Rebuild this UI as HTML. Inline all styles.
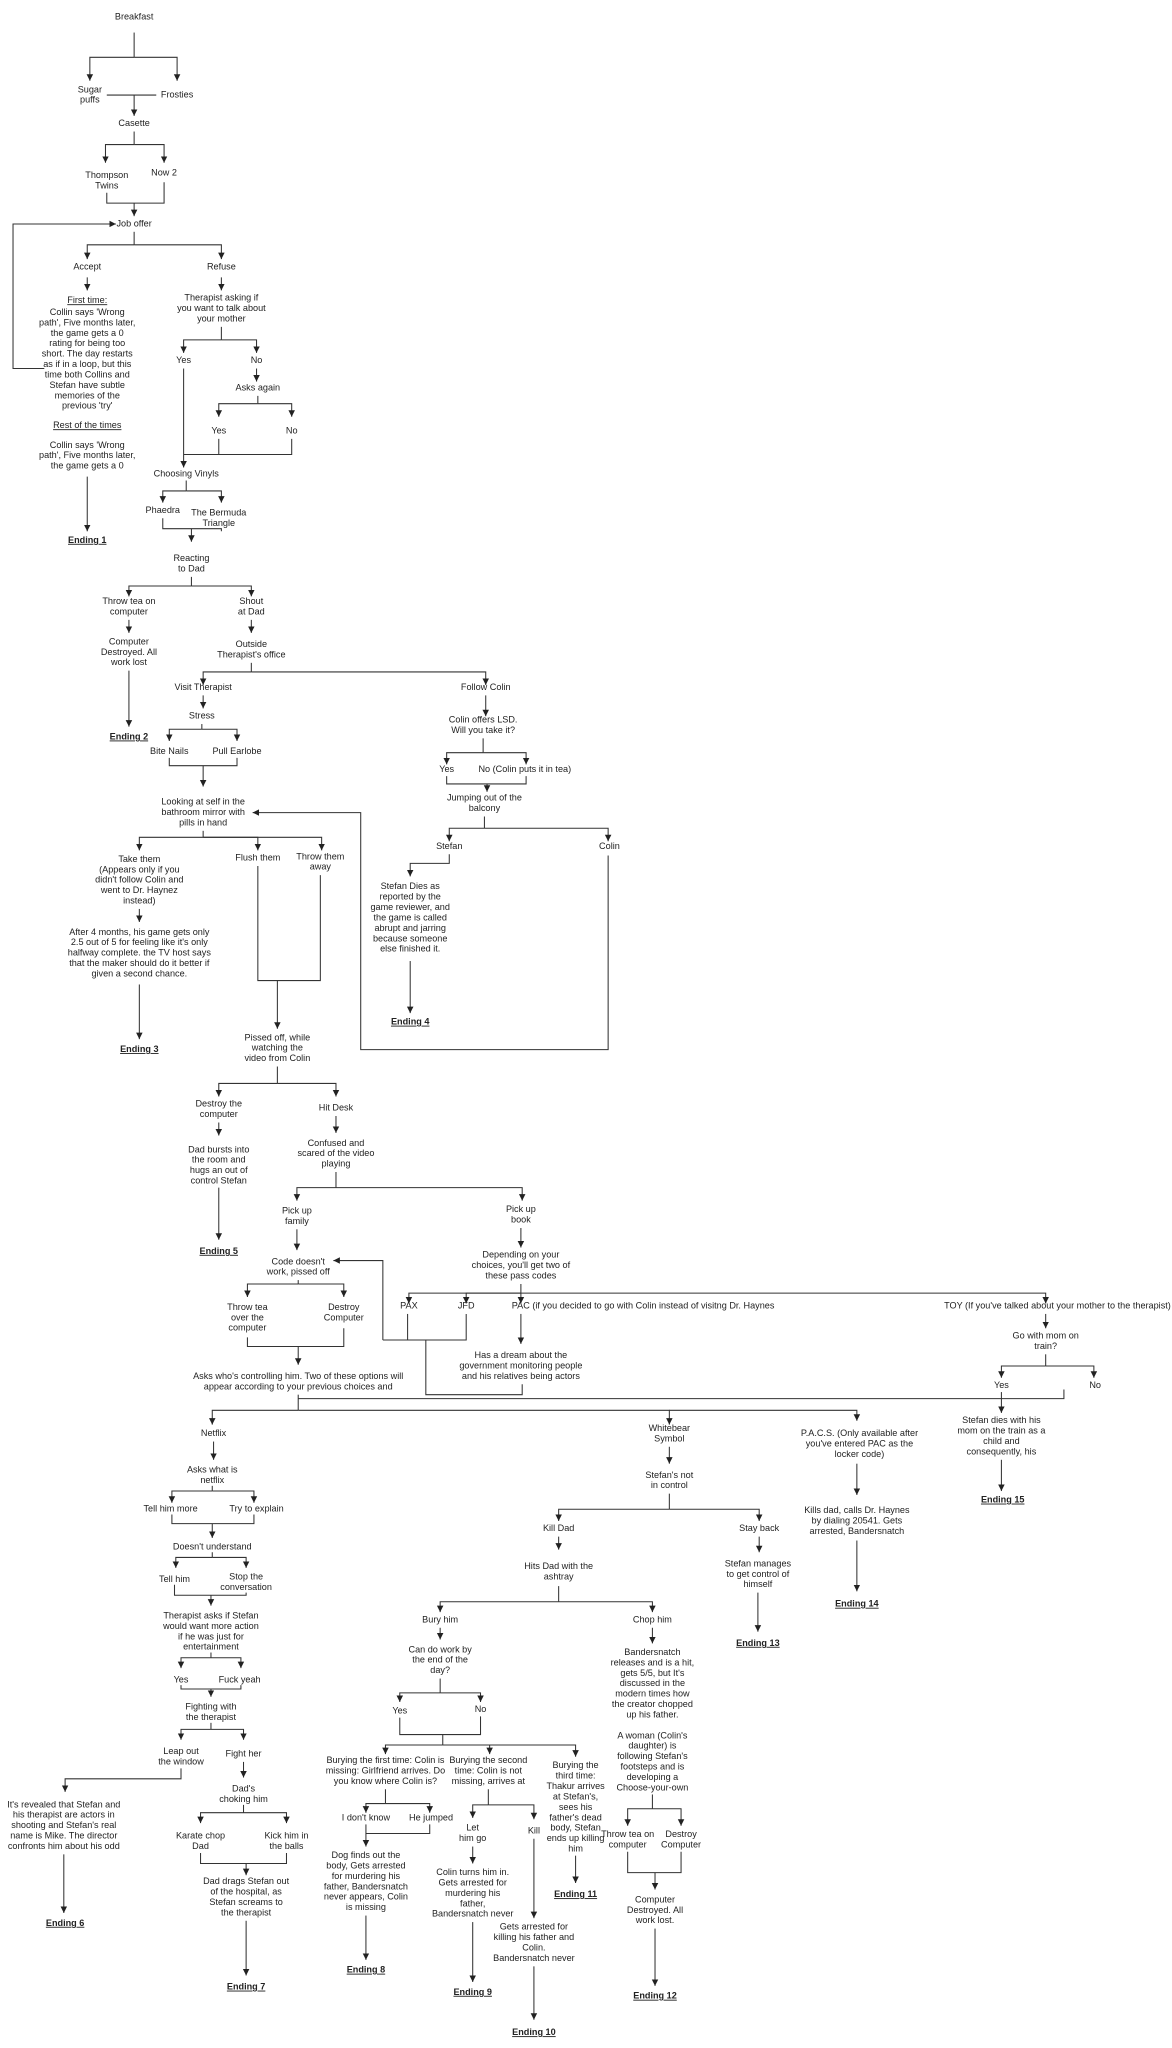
<!DOCTYPE html>
<html><head><meta charset="utf-8"><style>
html,body{margin:0;padding:0;background:#fff;}
svg{display:block;}
text{font-family:"Liberation Sans",Arial,sans-serif;font-size:7px;fill:#222;text-anchor:middle;dominant-baseline:middle;}
.l{text-anchor:start;}
.b{font-weight:bold;text-decoration:underline;}
.u{text-decoration:underline;}
path{fill:none;stroke:#333;stroke-width:0.8;}
</style></head><body>
<svg width="1172" height="2048" viewBox="0 0 900 1572.7" xmlns="http://www.w3.org/2000/svg">
<defs><marker id="a" markerUnits="userSpaceOnUse" markerWidth="6" markerHeight="6" refX="5" refY="3" orient="auto"><path d="M0,0.5 L5,3 L0,5.5 Z" style="fill:#222;stroke:none"/></marker></defs>
<!-- plain lines -->
<g>
<path d="M103,25V44"/><path d="M82,73H120"/><path d="M103,101V111"/>
<path d="M82,148V156H126V140"/><path d="M103,178V188"/>
<path d="M170,251V261"/><path d="M198,304V310"/>
<path d="M168,337V349"/><path d="M224,337V349H141"/>
<path d="M143,369V377"/><path d="M125,398V406H170V408"/>
<path d="M147,443V450"/><path d="M193,509V516"/><path d="M155,556V560"/>
<path d="M130,582V588H182V582"/><path d="M156,638V643"/>
<path d="M198,665V753H246V672"/>
<path d="M371,567V578"/><path d="M343,596V602H404V596"/><path d="M372,627V636"/>
<path d="M213,819V832"/><path d="M258,900V912"/>
<path d="M294,1029H358V1009"/><path d="M313,1009V1029"/>
<path d="M327,1029V1071H401V1063"/>
<path d="M400,986V993"/><path d="M803,1040V1049"/>
<path d="M229,983V986"/><path d="M190,1027V1034H264V1020"/>
<path d="M229,1071V1083"/><path d="M229,1074H817V1067"/>
<path d="M514,1147V1159"/>
<path d="M429,1218V1230"/><path d="M338,1289V1300"/>
<path d="M307,1319V1332H369V1318"/><path d="M340,1332V1340"/>
<path d="M296,1374V1385"/><path d="M330,1401V1408H281"/>
<path d="M375,1374V1386"/>
<path d="M501,1378V1389"/><path d="M482,1422V1438H523V1422"/>
<path d="M163,1141V1145"/><path d="M132,1163V1170H195V1163"/>
<path d="M163,1192V1196"/><path d="M134,1217V1225H189V1223"/>
<path d="M162,1269V1273"/><path d="M139,1294V1297H185V1294"/>
<path d="M162,1323V1328"/><path d="M187,1386V1392"/>
<path d="M154,1423V1431H220V1423"/>
</g>
<!-- arrows -->
<g marker-end="url(#a)">
<path d="M103,44H69V62"/><path d="M103,44H136V62"/>
<path d="M103,73V89"/>
<path d="M103,111H81V125"/><path d="M103,111H126V125"/>
<path d="M103,156V166"/>
<path d="M34,283H10V172H89"/>
<path d="M103,188H67V199"/><path d="M103,188H170V199"/>
<path d="M67,213V223"/><path d="M170,213V223"/>
<path d="M67,366V408"/>
<path d="M170,261H141V271"/><path d="M170,261H197V271"/>
<path d="M197,283V293"/>
<path d="M198,310H168V320"/><path d="M198,310H224V320"/>
<path d="M141,283V359"/>
<path d="M143,377H125V386"/><path d="M143,377H170V386"/>
<path d="M147,406V416"/>
<path d="M147,450H99V458"/><path d="M147,450H193V458"/>
<path d="M99,476V486"/><path d="M193,476V486"/>
<path d="M99,515V558"/>
<path d="M193,516H156V526"/><path d="M193,516H373V526"/>
<path d="M156,534V544"/>
<path d="M155,560H130V569"/><path d="M155,560H182V569"/>
<path d="M156,588V604"/>
<path d="M156,643H107V653"/><path d="M156,643H198V653"/><path d="M156,643H247V653"/>
<path d="M107,698V708"/><path d="M107,756V798"/>
<path d="M213,753V790"/>
<path d="M373,534V550"/>
<path d="M371,578H343V587"/><path d="M371,578H404V587"/>
<path d="M374,602V608"/>
<path d="M372,636H345V646"/><path d="M372,636H467V646"/>
<path d="M345,656V663H315V673"/>
<path d="M315,738V778"/>
<path d="M467,657V806H277V624H194"/>
<path d="M213,832H168V842"/><path d="M213,832H258V842"/>
<path d="M168,862V872"/><path d="M258,857V870"/>
<path d="M168,912V952"/>
<path d="M258,912H228V922"/><path d="M258,912H401V922"/>
<path d="M228,944V960"/><path d="M400,943V958"/>
<path d="M294,1029V968H256"/>
<path d="M400,993H314V1001"/><path d="M400,993H358V1001"/><path d="M400,993V1001"/><path d="M400,993H803V1001"/>
<path d="M400,1009V1032"/>
<path d="M803,1009V1020"/>
<path d="M803,1049H769V1058"/><path d="M803,1049H840V1058"/>
<path d="M769,1069V1085"/><path d="M769,1121V1145"/>
<path d="M229,986H190V996"/><path d="M229,986H264V996"/>
<path d="M229,1034V1048"/>
<path d="M229,1083H163V1094"/><path d="M229,1083H514V1094"/><path d="M514,1083H658V1091"/>
<path d="M514,1111V1124"/><path d="M658,1124V1148"/><path d="M658,1183V1222"/>
<path d="M514,1159H429V1168"/><path d="M514,1159H583V1168"/>
<path d="M429,1180V1190"/><path d="M583,1180V1192"/><path d="M582,1223V1253"/>
<path d="M429,1230H338V1238"/><path d="M429,1230H501V1238"/>
<path d="M338,1250V1259"/>
<path d="M338,1300H307V1307"/><path d="M338,1300H369V1307"/>
<path d="M340,1340H296V1347"/><path d="M340,1340H376V1347"/><path d="M340,1340H442V1349"/>
<path d="M296,1385H281V1392"/><path d="M296,1385H330V1392"/>
<path d="M281,1401V1418"/><path d="M281,1471V1505"/>
<path d="M375,1386H363V1396"/><path d="M375,1386H410V1397"/>
<path d="M363,1418V1431"/><path d="M363,1476V1522"/>
<path d="M410,1412V1473"/><path d="M410,1510V1551"/>
<path d="M442,1425V1446"/>
<path d="M501,1250V1262"/>
<path d="M501,1389H482V1402"/><path d="M501,1389H523V1402"/>
<path d="M503,1438V1451"/><path d="M503,1481V1525"/>
<path d="M164,1107V1121"/>
<path d="M163,1145H132V1154"/><path d="M163,1145H195V1154"/>
<path d="M163,1170V1181"/>
<path d="M163,1196H135V1204"/><path d="M163,1196H189V1204"/>
<path d="M162,1225V1233"/>
<path d="M162,1273H139V1281"/><path d="M162,1273H185V1281"/>
<path d="M162,1297V1303"/>
<path d="M162,1328H139V1336"/><path d="M162,1328H187V1336"/>
<path d="M139,1358V1366H50V1376"/><path d="M49,1424V1469"/>
<path d="M187,1353V1365"/>
<path d="M187,1392H154V1400"/><path d="M187,1392H220V1400"/>
<path d="M189,1431V1440"/><path d="M189,1475V1517"/>
</g>
<g>
<text x="103" y="13">Breakfast</text>
<text x="69" y="69">Sugar</text><text x="69" y="77">puffs</text>
<text x="136" y="73">Frosties</text>
<text x="103" y="95">Casette</text>
<text x="82" y="135">Thompson</text><text x="82" y="143">Twins</text>
<text x="126" y="133">Now 2</text>
<text x="103" y="172">Job offer</text>
<text x="67" y="205">Accept</text><text x="170" y="205">Refuse</text>
<text x="67" y="231" class="u">First time:</text>
<text x="67" y="240">Collin says 'Wrong</text><text x="67" y="248">path', Five months later,</text><text x="67" y="256">the game gets a 0</text><text x="67" y="264">rating for being too</text><text x="67" y="272">short. The day restarts</text><text x="67" y="280">as if in a loop, but this</text><text x="67" y="288">time both Collins and</text><text x="67" y="296">Stefan have subtle</text><text x="67" y="304">memories of the</text><text x="67" y="312">previous 'try'</text>
<text x="67" y="327" class="u">Rest of the times</text>
<text x="67" y="342">Collin says 'Wrong</text><text x="67" y="350">path', Five months later,</text><text x="67" y="358">the game gets a 0</text>
<text x="67" y="415" class="b">Ending 1</text>
<text x="170" y="229">Therapist asking if</text><text x="170" y="237">you want to talk about</text><text x="170" y="245">your mother</text>
<text x="141" y="277">Yes</text><text x="197" y="277">No</text>
<text x="198" y="298">Asks again</text>
<text x="168" y="331">Yes</text><text x="224" y="331">No</text>
<text x="143" y="364">Choosing Vinyls</text>
<text x="125" y="392">Phaedra</text><text x="168" y="394">The Bermuda</text><text x="168" y="402">Triangle</text>
<text x="147" y="429">Reacting</text><text x="147" y="437">to Dad</text>
<text x="99" y="462">Throw tea on</text><text x="99" y="470">computer</text>
<text x="193" y="462">Shout</text><text x="193" y="470">at Dad</text>
<text x="99" y="493">Computer</text><text x="99" y="501">Destroyed. All</text><text x="99" y="509">work lost</text>
<text x="99" y="566" class="b">Ending 2</text>
<text x="193" y="495">Outside</text><text x="193" y="503">Therapist's office</text>
<text x="156" y="528">Visit Therapist</text><text x="373" y="528">Follow Colin</text>
<text x="155" y="550">Stress</text>
<text x="130" y="577">Bite Nails</text><text x="182" y="577">Pull Earlobe</text>
<text x="156" y="616">Looking at self in the</text><text x="156" y="624">bathroom mirror with</text><text x="156" y="632">pills in hand</text>
<text x="107" y="660">Take them</text><text x="107" y="668">(Appears only if you</text><text x="107" y="676">didn't follow Colin and</text><text x="107" y="684">went to Dr. Haynez</text><text x="107" y="692">instead)</text>
<text x="107" y="716">After 4 months, his game gets only</text><text x="107" y="724">2.5 out of 5 for feeling like it's only</text><text x="107" y="732">halfway complete. the TV host says</text><text x="107" y="740">that the maker should do it better if</text><text x="107" y="748">given a second chance.</text>
<text x="107" y="806" class="b">Ending 3</text>
<text x="198" y="659">Flush them</text><text x="246" y="658">Throw them</text><text x="246" y="666">away</text>
<text x="213" y="797">Pissed off, while</text><text x="213" y="805">watching the</text><text x="213" y="813">video from Colin</text>
<text x="371" y="553">Colin offers LSD.</text><text x="371" y="561">Will you take it?</text>
<text x="343" y="591">Yes</text><text x="403" y="591">No (Colin puts it in tea)</text>
<text x="372" y="613">Jumping out of the</text><text x="372" y="621">balcony</text>
<text x="345" y="650">Stefan</text><text x="468" y="650">Colin</text>
<text x="315" y="681">Stefan Dies as</text><text x="315" y="689">reported by the</text><text x="315" y="697">game reviewer, and</text><text x="315" y="705">the game is called</text><text x="315" y="713">abrupt and jarring</text><text x="315" y="721">because someone</text><text x="315" y="729">else finished it.</text>
<text x="315" y="785" class="b">Ending 4</text>
<text x="168" y="848">Destroy the</text><text x="168" y="856">computer</text><text x="258" y="851">Hit Desk</text>
<text x="168" y="883">Dad bursts into</text><text x="168" y="891">the room and</text><text x="168" y="899">hugs an out of</text><text x="168" y="907">control Stefan</text>
<text x="168" y="961" class="b">Ending 5</text>
<text x="258" y="878">Confused and</text><text x="258" y="886">scared of the video</text><text x="258" y="894">playing</text>
<text x="228" y="930">Pick up</text><text x="228" y="938">family</text>
<text x="400" y="929">Pick up</text><text x="400" y="937">book</text>
<text x="229" y="969">Code doesn't</text><text x="229" y="977">work, pissed off</text>
<text x="400" y="964">Depending on your</text><text x="400" y="972">choices, you'll get two of</text><text x="400" y="980">these pass codes</text>
<text x="314" y="1003">PAX</text><text x="358" y="1003">JFD</text>
<text x="393" y="1003" class="l">PAC (if you decided to go with Colin instead of visitng Dr. Haynes</text>
<text x="725" y="1003" class="l">TOY (If you've talked about your mother to the therapist)</text>
<text x="400" y="1041">Has a dream about the</text><text x="400" y="1049">government monitoring people</text><text x="400" y="1057">and his relatives being actors</text>
<text x="803" y="1026">Go with mom on</text><text x="803" y="1034">train?</text>
<text x="769" y="1064">Yes</text><text x="841" y="1064">No</text>
<text x="769" y="1091">Stefan dies with his</text><text x="769" y="1099">mom on the train as a</text><text x="769" y="1107">child and</text><text x="769" y="1115">consequently, his</text>
<text x="770" y="1152" class="b">Ending 15</text>
<text x="190" y="1004">Throw tea</text><text x="190" y="1012">over the</text><text x="190" y="1020">computer</text>
<text x="264" y="1004">Destroy</text><text x="264" y="1012">Computer</text>
<text x="229" y="1057">Asks who's controlling him. Two of these options will</text><text x="229" y="1065">appear according to your previous choices and</text>
<text x="164" y="1101">Netflix</text>
<text x="514" y="1097">Whitebear</text><text x="514" y="1105">Symbol</text>
<text x="660" y="1101">P.A.C.S. (Only available after</text><text x="660" y="1109">you've entered PAC as the</text><text x="660" y="1117">locker code)</text>
<text x="514" y="1133">Stefan's not</text><text x="514" y="1141">in control</text>
<text x="658" y="1160">Kills dad, calls Dr. Haynes</text><text x="658" y="1168">by dialing 20541. Gets</text><text x="658" y="1176">arrested, Bandersnatch</text>
<text x="658" y="1232" class="b">Ending 14</text>
<text x="429" y="1174">Kill Dad</text><text x="583" y="1174">Stay back</text>
<text x="429" y="1203">Hits Dad with the</text><text x="429" y="1211">ashtray</text>
<text x="582" y="1201">Stefan manages</text><text x="582" y="1209">to get control of</text><text x="582" y="1217">himself</text>
<text x="582" y="1262" class="b">Ending 13</text>
<text x="338" y="1244">Bury him</text><text x="501" y="1244">Chop him</text>
<text x="338" y="1267">Can do work by</text><text x="338" y="1275">the end of the</text><text x="338" y="1283">day?</text>
<text x="307" y="1314">Yes</text><text x="369" y="1313">No</text>
<text x="296" y="1352">Burying the first time: Colin is</text><text x="296" y="1360">missing: Girlfriend arrives. Do</text><text x="296" y="1368">you know where Colin is?</text>
<text x="281" y="1396">I don't know</text><text x="331" y="1396">He jumped</text>
<text x="281" y="1425">Dog finds out the</text><text x="281" y="1433">body, Gets arrested</text><text x="281" y="1441">for murdering his</text><text x="281" y="1449">father, Bandersnatch</text><text x="281" y="1457">never appears, Colin</text><text x="281" y="1465">is missing</text>
<text x="281" y="1513" class="b">Ending 8</text>
<text x="375" y="1352">Burying the second</text><text x="375" y="1360">time: Colin is not</text><text x="375" y="1368">missing, arrives at</text>
<text x="363" y="1404">Let</text><text x="363" y="1412">him go</text><text x="410" y="1406">Kill</text>
<text x="363" y="1438">Colin turns him in.</text><text x="363" y="1446">Gets arrested for</text><text x="363" y="1454">murdering his</text><text x="363" y="1462">father,</text><text x="363" y="1470">Bandersnatch never</text>
<text x="363" y="1530" class="b">Ending 9</text>
<text x="410" y="1480">Gets arrested for</text><text x="410" y="1488">killing his father and</text><text x="410" y="1496">Colin.</text><text x="410" y="1504">Bandersnatch never</text>
<text x="410" y="1561" class="b">Ending 10</text>
<text x="442" y="1356">Burying the</text><text x="442" y="1364">third time:</text><text x="442" y="1372">Thakur arrives</text><text x="442" y="1380">at Stefan's,</text><text x="442" y="1388">sees his</text><text x="442" y="1396">father's dead</text><text x="442" y="1404">body, Stefan</text><text x="442" y="1412">ends up killing</text><text x="442" y="1420">him</text>
<text x="442" y="1455" class="b">Ending 11</text>
<text x="501" y="1269">Bandersnatch</text><text x="501" y="1277">releases and is a hit,</text><text x="501" y="1285">gets 5/5, but It's</text><text x="501" y="1293">discussed in the</text><text x="501" y="1301">modern times how</text><text x="501" y="1309">the creator chopped</text><text x="501" y="1317">up his father.</text>
<text x="501" y="1333">A woman (Colin's</text><text x="501" y="1341">daughter) is</text><text x="501" y="1349">following Stefan's</text><text x="501" y="1357">footsteps and is</text><text x="501" y="1365">developing a</text><text x="501" y="1373">Choose-your-own</text>
<text x="482" y="1409">Throw tea on</text><text x="482" y="1417">computer</text>
<text x="523" y="1409">Destroy</text><text x="523" y="1417">Computer</text>
<text x="503" y="1459">Computer</text><text x="503" y="1467">Destroyed. All</text><text x="503" y="1475">work lost.</text>
<text x="503" y="1533" class="b">Ending 12</text>
<text x="163" y="1129">Asks what is</text><text x="163" y="1137">netflix</text>
<text x="131" y="1159">Tell him more</text><text x="197" y="1159">Try to explain</text>
<text x="163" y="1188">Doesn't understand</text>
<text x="134" y="1213">Tell him</text><text x="189" y="1211">Stop the</text><text x="189" y="1219">conversation</text>
<text x="162" y="1241">Therapist asks if Stefan</text><text x="162" y="1249">would want more action</text><text x="162" y="1257">if he was just for</text><text x="162" y="1265">entertainment</text>
<text x="139" y="1290">Yes</text><text x="184" y="1290">Fuck yeah</text>
<text x="162" y="1311">Fighting with</text><text x="162" y="1319">the therapist</text>
<text x="139" y="1345">Leap out</text><text x="139" y="1353">the window</text><text x="187" y="1347">Fight her</text>
<text x="49" y="1386">It's revealed that Stefan and</text><text x="49" y="1394">his therapist are actors in</text><text x="49" y="1402">shooting and Stefan's real</text><text x="49" y="1410">name is Mike. The director</text><text x="49" y="1418">confronts him about his odd</text>
<text x="50" y="1477" class="b">Ending 6</text>
<text x="187" y="1374">Dad's</text><text x="187" y="1382">choking him</text>
<text x="154" y="1410">Karate chop</text><text x="154" y="1418">Dad</text>
<text x="220" y="1410">Kick him in</text><text x="220" y="1418">the balls</text>
<text x="189" y="1445">Dad drags Stefan out</text><text x="189" y="1453">of the hospital, as</text><text x="189" y="1461">Stefan screams to</text><text x="189" y="1469">the therapist</text>
<text x="189" y="1526" class="b">Ending 7</text>
</g>
</svg>
</body></html>
